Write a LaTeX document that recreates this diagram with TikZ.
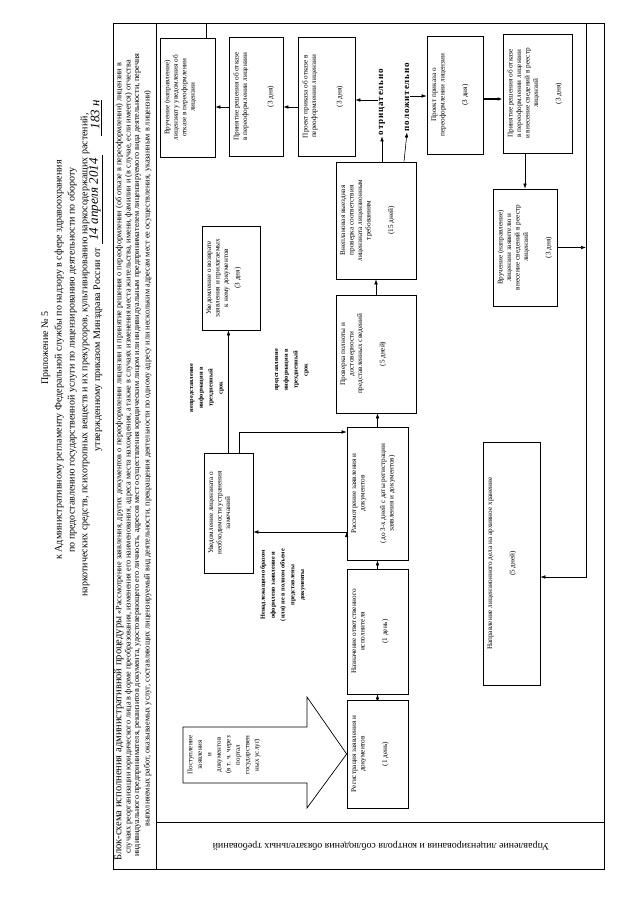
\documentclass[tikz,border=0pt]{standalone}
\usepackage{fontspec}
\setmainfont{Liberation Serif}
\newfontfamily\spacedfont[LetterSpace=10]{Liberation Serif}
\usepackage{graphicx}
\usetikzlibrary{arrows.meta}

\newcommand{\boxtxt}[3]{\rotatebox{90}{\parbox[c][\dimexpr#1pt-6pt\relax][t]{\dimexpr#2pt-6pt\relax}{\centering\vspace{1.5pt}#3}}}
\newcommand{\rotlbl}[2]{\rotatebox{90}{\parbox{#1pt}{\centering #2}}}

\begin{document}
\begin{tikzpicture}[x=1pt,y=-1pt,>={Latex[length=5pt,width=3.6pt]},
    blk/.style={draw,line width=0.7pt,inner sep=3pt,font=\fontsize{7.2}{8.5}\selectfont},
    lbl/.style={inner sep=1pt,font=\fontsize{6.3}{9.8}\selectfont\bfseries},
    yn/.style={inner sep=1pt,font=\spacedfont\bfseries\fontsize{9}{11}\selectfont},
    titl/.style={rotate=90,inner sep=0pt,font=\fontsize{10}{13}\selectfont},
    hand/.style={rotate=90,anchor=west,inner sep=0pt,font=\itshape\fontsize{13}{14}\selectfont},
    hdr/.style={rotate=90,anchor=west,inner sep=0pt,font=\fontsize{8.2}{9.5}\selectfont}]
    \useasboundingbox (0,0) rectangle (640,905);

    \node[titl] (t1) at (46,348) {Приложение № 5};
    \node[titl] (t2) at (59,360) {к Административному регламенту Федеральной службы по надзору в сфере здравоохранения};
    \node[titl] (t3) at (72,360) {по предоставлению государственной услуги по лицензированию деятельности по обороту};
    \node[titl] (t4) at (85,355) {наркотических средств, психотропных веществ и их прекурсоров, культивированию наркосодержащих растений,};
    \node[titl,anchor=east] (t5) at (98,248) {утвержденному приказом Минздрава России от};
    \node[hand] (d1) at (96,244) {\underline{\ 14 апреля 2014\ }};
    \node[hand] (d2) at (96,136) {\underline{\ \ 183 н}};

    \draw[line width=0.8pt] (113,23) rectangle (604,869);
    \draw[line width=0.8pt] (156,23) -- (156,869) (156,822) -- (604,822);
    \begin{scope}
      \clip (113,23) rectangle (156,869);
      \node[hdr] (h1) at (119,861) {{\fontsize{10.5}{10.5}\selectfont Блок-схема исполнения административной процедуры} «Рассмотрение заявления, других документов о переоформлении лицензии и принятие решения о переоформлении (об отказе в переоформлении) лицензии в};
      \node[hdr] (h2) at (128.5,854) {случаях реорганизации юридического лица в форме преобразования, изменения его наименования, адреса места нахождения, а также в случаях изменения места жительства, имени, фамилии и (в случае, если имеется) отчества};
      \node[hdr] (h3) at (138,857) {индивидуального предпринимателя, реквизитов документа, удостоверяющего его личность, адресов мест осуществления юридическим лицом или индивидуальным предпринимателем лицензируемого вида деятельности, перечня};
      \node[hdr] (h4) at (147.5,827) {выполняемых работ, оказываемых услуг, составляющих лицензируемый вид деятельности, прекращения деятельности по одному адресу или нескольким адресам мест ее осуществления, указанным в лицензии)};
    \end{scope}
    \node[rotate=180,inner sep=0pt,font=\fontsize{10}{12}\selectfont] (dept) at (381,846) {Управление лицензирования и контроля соблюдения обязательных требований};

    \node[blk] (handno) at (187.5,97.5) {\boxtxt{55}{119}{Вручение (направление)\\ лицензиату уведомления об\\ отказе в переоформлении\\ лицензии}};
    \node[blk] (decno) at (256,96.5) {\boxtxt{54}{119}{Принятие решения об отказе\\ в переоформлении лицензии\\[17pt] (3 дня)}};
    \node[blk] (orderno) at (326.5,96.5) {\boxtxt{57}{119}{Проект приказа об отказе в\\ переоформлении лицензии\\[17pt] (3 дня)}};
    \node[blk] (orderok) at (455,95) {\boxtxt{56}{118}{Проект приказа о\\ переоформлении лицензии\\[14pt] (3 дня)}};
    \node[blk] (decok) at (537.5,93.5) {\boxtxt{69}{119}{Принятие решения об отказе\\ в переоформлении лицензии\\ и внесение сведений в реестр\\ лицензий\\[14pt] (3 дня)}};
    \node[blk] (handok) at (525,247.5) {\boxtxt{64}{117}{Вручение (направление)\\ лицензии заявителю и\\ внесение сведений в реестр\\ лицензий\\[14pt] (3 дня)}};
    \node[blk] (visit) at (376,220.5) {\boxtxt{80}{117}{Внеплановая выездная\\ проверка соответствия\\ лицензиата лицензионным\\ требованиям\\[14pt] (15 дней)}};
    \node[blk] (check) at (376,354) {\boxtxt{80}{118}{Проверка полноты и\\ достоверности\\ представленных сведений\\[14pt] (5 дней)}};
    \node[blk] (review) at (377.5,493.5) {\boxtxt{61}{133}{Рассмотрение заявления и\\ документов\\[12pt] (до 3-х дней с даты регистрации\\ заявления и документов)}};
    \node[blk] (assign) at (377.5,631.5) {\boxtxt{61}{125}{Назначение ответственного\\ исполнителя\\[14pt] (1 день)}};
    \node[blk] (reg) at (377.5,754) {\boxtxt{61}{108}{Регистрация заявления и\\ документов\\[14pt] (1 день)}};
    \node[blk] (notify) at (228.5,513) {\boxtxt{49}{120}{Уведомление лицензиата о\\ необходимости устранения\\ замечаний}};
    \node[blk] (return) at (231,278) {\boxtxt{58}{104}{Уведомление о возврате\\ заявления и прилагаемых\\ к нему документов\\[3pt] (3 дня)}};
    \node[blk] (archive) at (511.5,563.5) {\boxtxt{57}{243}{Направление лицензионного дела на архивное хранение\\[14pt] (5 дней)}};

    \draw[line width=0.7pt] (183,727) -- (307,727) -- (307,697) -- (reg.west) -- (307,808) -- (307,783) -- (183,783) -- cycle;
    \node[inner sep=0pt,font=\fontsize{7}{9.5}\selectfont] (inp) at (224,755) {\rotlbl{52}{Поступление\\ заявления\\ и\\ документов\\ (в т. ч. через\\ портал\\ государствен\\ ных услуг)}};

    \node[yn] (neg) at (382,102) {\rotatebox{90}{отрицательно}};
    \node[yn] (pos) at (407,97) {\rotatebox{90}{положительно}};
    \node[lbl] (nonsub) at (207,388) {\rotlbl{60}{непредставление\\ информации в\\ трехдневный\\ срок}};
    \node[lbl] (sub) at (292,370) {\rotlbl{60}{представление\\ информации в\\ трехдневный\\ срок}};
    \node[lbl] (improper) at (283,585) {\rotlbl{95}{Ненадлежащим образом\\ оформлено заявление и\\ (или) не в полном объеме\\ представлены\\ документы}};

    \coordinate (c1) at (206,23);
    \coordinate (c2) at (586,23);
    \coordinate (c3) at (586,577);

    \draw[->,line width=0.6pt]
      (decno.west |- 0,107) edge (handno.east |- 0,107)
      (orderno.west |- 0,107) edge (decno.east |- 0,107)
      (neg.west |- 0,100) edge (orderno.east |- 0,100)
      (pos.east |- 0,96) edge (orderok.west |- 0,96)
      (handok.north |- decok.south) edge (handok.north)
      (handok.east) edge (handok.east -| c2)
      (visit.north -| neg) edge (neg.south)
      ([xshift=28pt]visit.north) edge (pos.south)
      (check.north) edge (visit.south)
      (review.north) edge (review.north |- check.south)
      (assign.north) edge (assign.north |- review.south)
      (reg.north) edge (reg.north |- assign.south)
      (notify.north) edge (notify.north |- return.south)
      (review.west |- 0,532) edge (notify.east |- 0,532);
    \draw[->,line width=1.2pt] (orderok.east |- 0,99) -- (decok.west |- 0,99);
    \draw[->,line width=0.6pt] ([xshift=10.5pt]notify.north) |- (review.west |- 0,432);
    \draw[->,line width=0.6pt] (handno.north -| c1) -- (c1) -- (c2) -- (c3) -- (c3 -| archive.east);
\end{tikzpicture}
\end{document}
